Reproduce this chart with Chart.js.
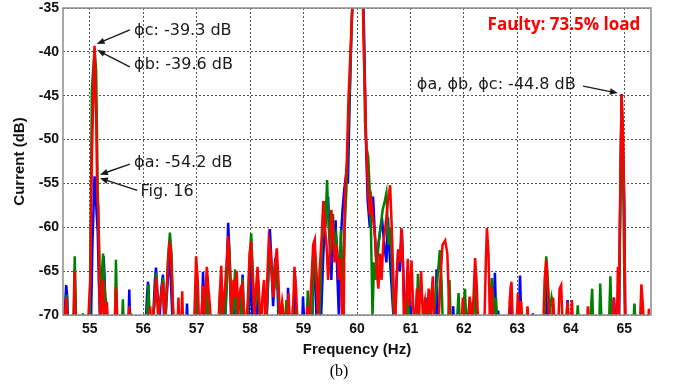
<!DOCTYPE html>
<html>
<head>
<meta charset="utf-8">
<script src="https://cdn.jsdelivr.net/npm/chart.js@4.4.0/dist/chart.umd.min.js"></script>
<style>
  body { margin: 0; background: #fff; }
  #wrap { width: 678px; height: 385px; }
</style>
</head>
<body>
<div id="wrap"><canvas id="spectrum" width="678" height="385"></canvas></div>
<script>
// spectrum of the three phase currents, [Hz, dB]; -72 = below the floor
const phaseC = [
  [54.50,-72],[54.54,-70],[54.56,-68],[54.59,-72],
  [54.70,-72],[54.72,-65],[54.74,-72],
  [54.96,-72],[55.01,-66],[55.04,-52],[55.09,-39.3],[55.12,-47],[55.14,-56],[55.16,-58],[55.18,-66],[55.20,-72],
  [55.23,-68],[55.25,-66],[55.28,-72],[55.32,-68.5],[55.35,-72],
  [55.46,-72],[55.49,-66.8],[55.51,-70],[55.53,-72],
  [55.72,-72],[55.74,-69],[55.76,-72],
  [56.10,-72],[56.13,-69],[56.16,-72],[56.22,-68],[56.25,-65.7],[56.28,-70],[56.33,-68],[56.37,-66.3],[56.40,-71],[56.45,-66],[56.49,-61.6],[56.52,-63],[56.55,-68],[56.58,-72],
  [56.64,-72],[56.66,-68],[56.68,-72],[56.71,-72],[56.73,-67.3],[56.75,-72],
  [56.95,-72],[56.99,-63.3],[57.02,-66],[57.05,-72],[57.09,-70],[57.12,-66.7],[57.15,-70],[57.19,-64.5],[57.22,-67],[57.25,-69],[57.27,-72],
  [57.40,-72],[57.43,-68],[57.46,-64.4],[57.49,-70],[57.53,-67],[57.56,-64],[57.59,-61],[57.62,-65],[57.65,-70],[57.69,-66],[57.72,-68],[57.75,-65],[57.78,-70],[57.82,-67],[57.85,-66.5],[57.88,-69],[57.92,-72],
  [57.96,-68],[57.99,-63],[58.02,-61.6],[58.05,-66],[58.08,-70],[58.11,-67],[58.14,-64.5],[58.17,-68],[58.20,-72],[58.23,-68],[58.26,-66],[58.29,-72],
  [58.32,-66],[58.35,-61.4],[58.38,-62.5],[58.41,-66],[58.44,-68],[58.47,-64],[58.50,-62.4],[58.53,-66],[58.56,-71],[58.60,-68.5],[58.63,-70],[58.66,-72],
  [58.69,-72],[58.72,-67.5],[58.75,-72],[58.80,-70],[58.83,-64.5],[58.86,-67],[58.89,-72],
  [59.04,-72],[59.07,-69],[59.10,-72],[59.14,-67],[59.18,-62],[59.21,-61.4],[59.24,-66],[59.27,-70],[59.30,-65],[59.34,-61],[59.37,-57],[59.40,-60],[59.43,-62],[59.46,-66],[59.49,-63],[59.52,-58],[59.55,-60],[59.58,-64],[59.62,-62],[59.66,-66],[59.69,-63.5],[59.72,-70],[59.75,-72],
  [59.77,-57],[59.81,-52.3],[59.84,-45.5],[59.87,-41.1],[59.90,-36.7],[59.93,-33],[60.02,-20],[60.11,-34],[60.13,-40.7],[60.15,-44.5],[60.17,-50],[60.21,-56.3],[60.24,-58.6],[60.27,-57],[60.30,-59],[60.34,-61.3],[60.37,-65],[60.40,-67],[60.43,-63],[60.46,-66],[60.49,-62],[60.53,-60],[60.58,-57],[60.62,-55.2],[60.65,-60],[60.68,-65.7],[60.71,-72],
  [60.74,-66],[60.77,-62.5],[60.80,-64],[60.83,-60.1],[60.86,-64],[60.88,-72],[60.92,-68],[60.95,-63.6],[60.98,-69],[61.02,-63.8],[61.05,-69],[61.08,-72],[61.12,-67],[61.16,-70],[61.20,-65],[61.23,-70],[61.27,-68.5],[61.30,-72],[61.34,-67],[61.38,-70],[61.42,-65.6],[61.45,-72],
  [61.52,-72],[61.56,-66],[61.60,-62],[61.65,-61.5],[61.69,-63],[61.72,-68.4],[61.75,-72],
  [61.95,-72],[61.98,-68],[62.01,-72],[62.08,-72],[62.11,-67.9],[62.14,-72],[62.18,-68],[62.21,-63.5],[62.24,-66.5],[62.27,-72],
  [62.38,-72],[62.41,-64],[62.43,-60.1],[62.46,-63],[62.49,-72],[62.52,-66.8],[62.55,-72],
  [62.83,-72],[62.86,-68],[62.89,-66.2],[62.92,-72],[62.98,-72],[63.01,-67.5],[63.04,-72],[63.07,-68.4],[63.10,-72],[63.16,-72],[63.19,-69],[63.22,-72],
  [63.48,-72],[63.51,-66],[63.54,-63.7],[63.57,-66.8],[63.60,-72],[63.64,-72],[63.67,-68],[63.70,-72],[63.76,-72],[63.79,-67],[63.82,-66.6],[63.85,-72],[63.91,-72],[63.94,-68.5],[63.97,-72],[64.00,-72],[64.02,-68.3],[64.05,-72],
  [64.29,-72],[64.32,-69],[64.35,-72],
  [64.77,-72],[64.80,-68],[64.83,-72],[64.86,-72],[64.88,-64.5],[64.90,-70],[64.92,-58],[64.95,-44.8],[64.98,-50],[65.00,-58],[65.02,-72],
  [65.29,-72],[65.32,-66.5],[65.35,-69],[65.37,-72],[65.44,-72],[65.46,-69.3],[65.48,-72],[65.50,-72]
];

const phaseB = [
  [54.50,-72],[54.54,-70],[54.57,-67.7],[54.59,-72],
  [54.69,-72],[54.72,-63.3],[54.75,-72],
  [54.85,-72],[54.87,-69.8],[54.89,-72],
  [55.00,-72],[55.04,-44.3],[55.09,-39.6],[55.12,-42.1],[55.15,-56],[55.18,-63],[55.20,-72],
  [55.22,-66],[55.25,-63],[55.28,-67],[55.31,-69],[55.34,-72],
  [55.47,-72],[55.49,-63.7],[55.52,-72],
  [55.60,-72],[55.62,-68.2],[55.64,-72],
  [55.75,-72],[55.77,-69.8],[55.79,-72],
  [56.05,-72],[56.10,-66.5],[56.13,-72],[56.21,-69],[56.24,-65.2],[56.28,-70],[56.33,-68],[56.37,-65.8],[56.41,-72],[56.46,-64],[56.50,-60.6],[56.53,-63],[56.57,-72],
  [56.96,-72],[57.00,-65],[57.03,-72],[57.17,-72],[57.20,-65.5],[57.23,-72],
  [57.41,-72],[57.44,-67],[57.47,-72],[57.54,-70],[57.57,-66],[57.61,-62],[57.64,-67],[57.68,-70],[57.72,-64.8],[57.75,-72],[57.83,-70],[57.86,-65.8],[57.89,-72],
  [57.96,-70],[57.99,-64],[58.02,-60.7],[58.05,-65],[58.08,-70],[58.12,-68],[58.15,-66],[58.19,-72],
  [58.31,-70],[58.36,-62],[58.40,-65],[58.44,-66],[58.47,-63.5],[58.50,-67],[58.52,-66],[58.55,-72],
  [58.65,-72],[58.68,-68.3],[58.71,-72],[58.78,-72],[58.80,-69],[58.83,-72],[58.85,-72],[58.87,-69],[58.90,-72],
  [59.05,-72],[59.08,-67.2],[59.11,-72],
  [59.16,-72],[59.20,-62.2],[59.23,-64],[59.26,-67],[59.30,-70],[59.34,-63],[59.38,-57],[59.41,-60],[59.44,-54.6],[59.47,-60],[59.51,-63],[59.55,-58.5],[59.58,-62],[59.61,-61],[59.64,-63.5],[59.68,-66],[59.70,-60.3],[59.73,-68],
  [59.77,-60],[59.80,-56],[59.83,-50.4],[59.86,-44.9],[59.90,-37],[59.92,-33],[60.02,-20.2],[60.11,-34],[60.13,-39],[60.15,-48],[60.18,-51],[60.21,-52],[60.24,-56],[60.26,-60],[60.29,-70],[60.32,-64],[60.36,-66],[60.40,-62],[60.44,-60],[60.48,-58],[60.52,-57],[60.55,-56.1],[60.59,-62],[60.63,-60],[60.66,-65.5],[60.70,-72],
  [60.91,-72],[60.95,-66.4],[60.98,-72],[61.11,-72],[61.14,-65.3],[61.17,-72],
  [61.24,-72],[61.27,-68],[61.30,-72],[61.36,-69],[61.40,-67],[61.44,-70],[61.47,-68],[61.51,-65.5],[61.55,-62.6],[61.58,-66],[61.61,-72],
  [61.70,-72],[61.73,-66],[61.76,-72],
  [61.86,-72],[61.90,-67.5],[61.93,-72],[61.99,-70],[62.02,-67],[62.05,-72],[62.08,-70],[62.11,-68],[62.14,-72],[62.18,-70],[62.21,-64.9],[62.24,-72],
  [62.48,-72],[62.52,-65.8],[62.55,-68],[62.58,-72],[62.60,-68],[62.63,-72],
  [63.50,-72],[63.54,-63.3],[63.57,-66],[63.60,-70],[63.64,-68],[63.67,-69],[63.70,-72],
  [63.90,-72],[63.93,-69],[63.96,-72],
  [64.10,-72],[64.13,-68.9],[64.16,-72],
  [64.35,-72],[64.40,-67],[64.42,-72],
  [64.53,-72],[64.55,-66.4],[64.58,-72],
  [64.71,-72],[64.74,-65.6],[64.77,-72],
  [64.89,-72],[64.92,-60],[64.95,-44.8],[64.98,-55],[65.00,-65.5],[65.02,-72],
  [65.16,-72],[65.19,-68.7],[65.22,-72],
  [65.30,-72],[65.32,-67.5],[65.34,-72],
  [65.50,-72]
];

const phaseA = [
  [54.50,-72],[54.53,-70],[54.56,-66.6],[54.58,-68],[54.60,-72],
  [54.70,-72],[54.72,-68],[54.74,-72],
  [55.02,-72],[55.05,-62],[55.09,-54.2],[55.11,-56],[55.13,-58.5],[55.15,-60.5],[55.17,-66],[55.20,-72],
  [55.23,-66],[55.26,-63.3],[55.28,-66],[55.30,-72],
  [55.47,-72],[55.49,-69],[55.51,-72],
  [55.72,-72],[55.74,-67.1],[55.76,-72],
  [56.04,-72],[56.07,-68],[56.09,-66.2],[56.12,-72],[56.19,-70],[56.22,-66],[56.24,-64.6],[56.27,-68],[56.31,-70],[56.34,-67],[56.37,-65.4],[56.40,-72],[56.45,-67],[56.50,-62.7],[56.53,-68],[56.56,-72],
  [56.80,-72],[56.82,-68.7],[56.84,-72],
  [57.09,-72],[57.12,-65.1],[57.15,-70],[57.18,-72],
  [57.52,-72],[57.56,-66],[57.59,-59.5],[57.62,-64],[57.65,-72],[57.72,-70],[57.75,-66.6],[57.78,-72],[57.83,-70],[57.86,-65.4],[57.89,-72],
  [57.98,-70],[58.02,-63.7],[58.05,-72],[58.10,-70],[58.13,-67],[58.16,-72],
  [58.30,-72],[58.34,-66],[58.37,-60.2],[58.40,-64],[58.43,-69],[58.47,-65],[58.50,-64.5],[58.53,-70],[58.56,-72],
  [58.69,-72],[58.71,-66.9],[58.74,-72],[58.81,-72],[58.84,-65.6],[58.87,-72],
  [58.97,-72],[58.99,-67.9],[59.02,-72],
  [59.16,-72],[59.19,-63],[59.22,-66],[59.25,-72],[59.33,-70],[59.37,-63],[59.40,-60],[59.43,-58],[59.46,-56.5],[59.49,-62],[59.52,-66],[59.55,-60.2],[59.58,-62],[59.60,-59.2],[59.63,-65],[59.66,-70],
  [59.70,-61],[59.73,-58],[59.76,-55.8],[59.80,-53.8],[59.83,-55],[59.86,-46.5],[59.89,-39],[59.92,-33],[60.02,-20.5],[60.11,-33],[60.13,-37],[60.15,-44],[60.17,-51],[60.20,-57],[60.24,-60],[60.27,-58],[60.30,-56.5],[60.33,-60.3],[60.36,-64],[60.40,-62],[60.44,-60],[60.47,-59.2],[60.51,-62],[60.55,-64],[60.58,-58.9],[60.61,-63],[60.65,-67],[60.70,-72],
  [60.74,-66],[60.77,-62.8],[60.80,-65],[60.84,-60.3],[60.87,-65.8],[60.90,-72],
  [60.96,-72],[60.99,-67],[61.02,-72],
  [61.25,-72],[61.28,-68],[61.31,-72],
  [61.45,-72],[61.49,-64.8],[61.52,-72],
  [61.78,-72],[61.80,-69],[61.82,-72],[62.10,-72],[62.12,-68.5],[62.14,-72],
  [62.53,-72],[62.56,-68],[62.58,-65.2],[62.61,-72],[62.64,-69.5],[62.66,-72],
  [62.85,-72],[62.88,-66.6],[62.91,-72],[63.02,-72],[63.05,-65.5],[63.08,-72],
  [63.27,-72],[63.29,-69.8],[63.31,-72],
  [63.52,-72],[63.55,-65.8],[63.58,-72],
  [63.92,-72],[63.94,-68.3],[63.96,-72],
  [64.78,-72],[64.81,-68],[64.84,-72],
  [64.90,-72],[64.92,-60],[64.95,-44.8],[64.98,-52],[65.00,-57.3],[65.02,-72],
  [65.50,-72]
];

const xTicks = [55, 56, 57, 58, 59, 60, 61, 62, 63, 64, 65];
const yTicks = [-70, -65, -60, -55, -50, -45, -40, -35];

// callouts: text anchor, arrow tail and arrow tip in [Hz, dB]
const callouts = [
  { text: 'ϕc: -39.3 dB', at: [55.83, -37.6], from: [55.75, -37.5], to: [55.13, -39.1] },
  { text: 'ϕb: -39.6 dB', at: [55.83, -41.5], from: [55.75, -41.7], to: [55.14, -39.8] },
  { text: 'ϕa: -54.2 dB', at: [55.83, -52.6], from: [55.75, -52.8], to: [55.19, -54.0] },
  { text: 'Fig. 16', at: [55.95, -56.0], from: [55.89, -55.8], to: [55.19, -54.4] },
  { text: 'ϕa, ϕb, ϕc: -44.8 dB', at: [61.12, -43.8], from: [64.23, -43.9], to: [64.88, -44.7] }
];
const caseLabel = 'Faulty: 73.5% load';

function toPoints(rows) {
  return rows.map(r => ({ x: r[0], y: r[1] }));
}

function drawArrow(ctx, x1, y1, x2, y2) {
  const ang = Math.atan2(y2 - y1, x2 - x1);
  const len = 8, half = 3.2;
  ctx.beginPath();
  ctx.moveTo(x1, y1);
  ctx.lineTo(x2 - Math.cos(ang) * len * 0.8, y2 - Math.sin(ang) * len * 0.8);
  ctx.stroke();
  ctx.beginPath();
  ctx.moveTo(x2, y2);
  ctx.lineTo(x2 - Math.cos(ang) * len - Math.sin(ang) * half, y2 - Math.sin(ang) * len + Math.cos(ang) * half);
  ctx.lineTo(x2 - Math.cos(ang) * len + Math.sin(ang) * half, y2 - Math.sin(ang) * len - Math.cos(ang) * half);
  ctx.closePath();
  ctx.fill();
}

// frame around the plot, callouts and the caption
const decorations = {
  id: 'decorations',
  afterDraw(chart) {
    const { ctx, chartArea: a, scales: { x, y } } = chart;
    ctx.save();
    ctx.strokeStyle = '#8c8c8c';
    ctx.lineWidth = 1.5;
    ctx.strokeRect(a.left, a.top, a.right - a.left, a.bottom - a.top);

    ctx.strokeStyle = '#1a1a1a';
    ctx.fillStyle = '#1a1a1a';
    ctx.lineWidth = 1.4;
    ctx.font = '16px "DejaVu Sans", sans-serif';
    ctx.textAlign = 'left';
    ctx.textBaseline = 'middle';
    callouts.forEach(c => {
      ctx.fillText(c.text, x.getPixelForValue(c.at[0]), y.getPixelForValue(c.at[1]));
      drawArrow(ctx,
        x.getPixelForValue(c.from[0]), y.getPixelForValue(c.from[1]),
        x.getPixelForValue(c.to[0]), y.getPixelForValue(c.to[1]));
    });

    ctx.fillStyle = '#ff0000';
    ctx.font = 'bold 17px "Open Sans", "DejaVu Sans", sans-serif';
    ctx.textAlign = 'right';
    ctx.fillText(caseLabel, x.getPixelForValue(65.3), y.getPixelForValue(-37.0));

    ctx.fillStyle = '#000';
    ctx.font = '16px "Liberation Serif", "Times New Roman", serif';
    ctx.textAlign = 'center';
    ctx.fillText('(b)', chart.width / 2, chart.height - 13);
    ctx.restore();
  }
};

const tickFont = { family: '"Liberation Sans", Arial, sans-serif', size: 14, weight: 'bold' };

new Chart(document.getElementById('spectrum'), {
  type: 'line',
  data: {
    datasets: [
      { label: 'ϕc', data: toPoints(phaseC), borderColor: '#ff0000' },
      { label: 'ϕb', data: toPoints(phaseB), borderColor: '#008000' },
      { label: 'ϕa', data: toPoints(phaseA), borderColor: '#0000ff' }
    ]
  },
  options: {
    responsive: false,
    animation: false,
    parsing: false,
    devicePixelRatio: 1,
    layout: { padding: { left: 0, right: 27, top: 8, bottom: 0 } },
    elements: {
      line: { borderWidth: 2.5, tension: 0 },
      point: { radius: 0, hoverRadius: 0 }
    },
    plugins: {
      legend: { display: false },
      tooltip: { enabled: false }
    },
    scales: {
      x: {
        type: 'linear',
        min: 54.5,
        max: 65.5,
        afterBuildTicks: s => { s.ticks = xTicks.map(v => ({ value: v })); },
        afterFit: s => { s.height = 70; s.paddingLeft = 0; s.paddingRight = 0; },
        ticks: { font: tickFont, color: '#111', padding: 6, maxRotation: 0 },
        grid: { color: '#555', lineWidth: 1, drawTicks: false },
        border: { display: false, dash: [2, 2] },
        title: {
          display: true,
          text: 'Frequency (Hz)',
          color: '#111',
          font: { family: '"Liberation Sans", Arial, sans-serif', size: 15, weight: 'bold' },
          padding: { top: 0, bottom: 26 }
        }
      },
      y: {
        min: -70,
        max: -35,
        afterBuildTicks: s => { s.ticks = yTicks.map(v => ({ value: v })); },
        afterFit: s => { s.width = 63; s.paddingTop = 0; s.paddingBottom = 0; },
        ticks: { font: tickFont, color: '#111', padding: 4 },
        grid: { color: '#555', lineWidth: 1, drawTicks: false },
        border: { display: false, dash: [2, 2] },
        title: {
          display: true,
          text: 'Current (dB)',
          color: '#111',
          font: { family: '"Liberation Sans", Arial, sans-serif', size: 15, weight: 'bold' },
          padding: { top: 11, bottom: 0 }
        }
      }
    }
  },
  plugins: [decorations]
});
</script>
</body>
</html>
